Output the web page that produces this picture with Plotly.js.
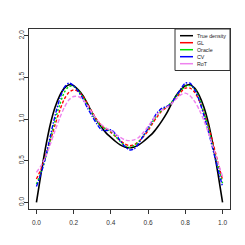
<!DOCTYPE html>
<html><head><meta charset="utf-8">
<script src="https://cdn.plot.ly/plotly-3.0.1.min.js"></script>
<style>html,body{margin:0;padding:0;background:#fff}#p{width:245px;height:245px}</style>
</head><body><div id="p"></div>
<script>
const xGrid = [0,0.025,0.05,0.075,0.1,0.125,0.15,0.175,0.2,0.225,0.25,0.275,0.3,0.325,0.35,0.375,0.4,0.425,0.45,0.475,0.5,0.525,0.55,0.575,0.6,0.625,0.65,0.675,0.7,0.725,0.75,0.775,0.8,0.825,0.85,0.875,0.9,0.925,0.95,0.975,1];
const trueDensity = [0,0.35,0.67,0.94,1.14,1.28,1.37,1.41,1.40,1.35,1.28,1.18,1.07,0.98,0.90,0.83,0.78,0.73,0.69,0.665,0.655,0.665,0.69,0.73,0.78,0.83,0.90,0.98,1.07,1.18,1.28,1.35,1.40,1.41,1.37,1.28,1.14,0.94,0.67,0.35,0];
const gl = [0.28,0.40,0.56,0.74,0.93,1.10,1.24,1.32,1.35,1.33,1.27,1.18,1.08,0.99,0.92,0.88,0.84,0.79,0.74,0.70,0.68,0.69,0.73,0.79,0.86,0.95,1.03,1.10,1.14,1.19,1.25,1.32,1.37,1.37,1.32,1.22,1.07,0.90,0.70,0.48,0.27];
const oracle = [0.22,0.36,0.54,0.76,0.98,1.17,1.32,1.39,1.39,1.34,1.26,1.16,1.06,0.97,0.91,0.88,0.85,0.79,0.73,0.68,0.66,0.68,0.73,0.80,0.88,0.97,1.05,1.11,1.15,1.20,1.27,1.34,1.39,1.40,1.36,1.25,1.08,0.88,0.66,0.44,0.23];
const cv = [0.19,0.35,0.55,0.80,1.04,1.24,1.38,1.43,1.40,1.33,1.24,1.13,1.03,0.94,0.87,0.86,0.87,0.82,0.74,0.67,0.63,0.64,0.71,0.80,0.89,0.99,1.08,1.13,1.15,1.19,1.27,1.36,1.43,1.43,1.35,1.22,1.04,0.84,0.62,0.40,0.19];
const rot = [0.36,0.44,0.55,0.70,0.86,1.01,1.14,1.23,1.27,1.27,1.23,1.16,1.07,0.99,0.93,0.89,0.86,0.82,0.78,0.75,0.74,0.75,0.78,0.84,0.91,0.99,1.06,1.11,1.14,1.18,1.24,1.29,1.31,1.28,1.21,1.11,0.98,0.83,0.66,0.48,0.31];
const seriesNames = ["True density","GL","Oracle","CV","RoT"];
const xTicks = [0,0.2,0.4,0.6,0.8,1.0];
const yTicks = [0,0.5,1.0,1.5,2.0];

const series = [trueDensity, gl, oracle, cv, rot];
const colors = ["#000000","#FF0000","#00E000","#0000FF","#EE82EE"];
const dashes = ["solid","3px,2px","2px,2px","4px,1.5px,1.5px,1.5px","4px,2px"];
const widths = [1.6,1.4,1.4,1.4,1.4];

const traces = series.map((ys,i)=>({
  x: xGrid, y: ys, type:'scatter', mode:'lines', name: seriesNames[i],
  line:{color:colors[i], width:widths[i], dash:dashes[i], shape:'spline', smoothing:0.8},
  showlegend:false, hoverinfo:'skip'
}));

const L=29, R=15, T=29, B=36, W=245-L-R, H=245-T-B;
const px = v => (v - L)/W;
const py = v => (245 - B - v)/H;

const shapes = [{type:'rect', xref:'paper', yref:'paper', x0:px(175), x1:1, y0:py(70.5), y1:1,
  line:{color:'#333', width:1}, fillcolor:'#fff', layer:'above'}];
const annotations = [];
const rowY = [35.7,42.7,49.7,56.7,63.7];
seriesNames.forEach((n,i)=>{
  shapes.push({type:'line', xref:'paper', yref:'paper', x0:px(180), x1:px(193), y0:py(rowY[i]), y1:py(rowY[i]),
    line:{color:colors[i], width:1.5}, layer:'above'});
  annotations.push({xref:'paper', yref:'paper', x:px(195), y:py(rowY[i]), text:n, showarrow:false,
    xanchor:'left', yanchor:'middle', font:{size:5.3, color:'#222', family:'Liberation Sans, Arial, sans-serif'}});
});

const axisCommon = {showgrid:false, zeroline:false, showline:true, mirror:true, linecolor:'#333', linewidth:1,
  ticks:'outside', ticklen:4, tickcolor:'#333', tickwidth:1, tickformat:'.1f',
  tickfont:{size:6.5, color:'#333', family:'Liberation Sans, Arial, sans-serif'}};

const layout = {
  width:245, height:245, margin:{l:L, r:R, t:T, b:B, pad:0},
  paper_bgcolor:'#fff', plot_bgcolor:'#fff', showlegend:false,
  xaxis: Object.assign({}, axisCommon, {range:[-0.04,1.04], tickvals:xTicks, ticklabelstandoff:3}),
  yaxis: Object.assign({}, axisCommon, {range:[-0.08,2.08], tickvals:yTicks, tickangle:-90, ticklabelstandoff:-3}),
  shapes: shapes, annotations: annotations
};
Plotly.newPlot('p', traces, layout, {staticPlot:true, displayModeBar:false});
</script></body></html>
